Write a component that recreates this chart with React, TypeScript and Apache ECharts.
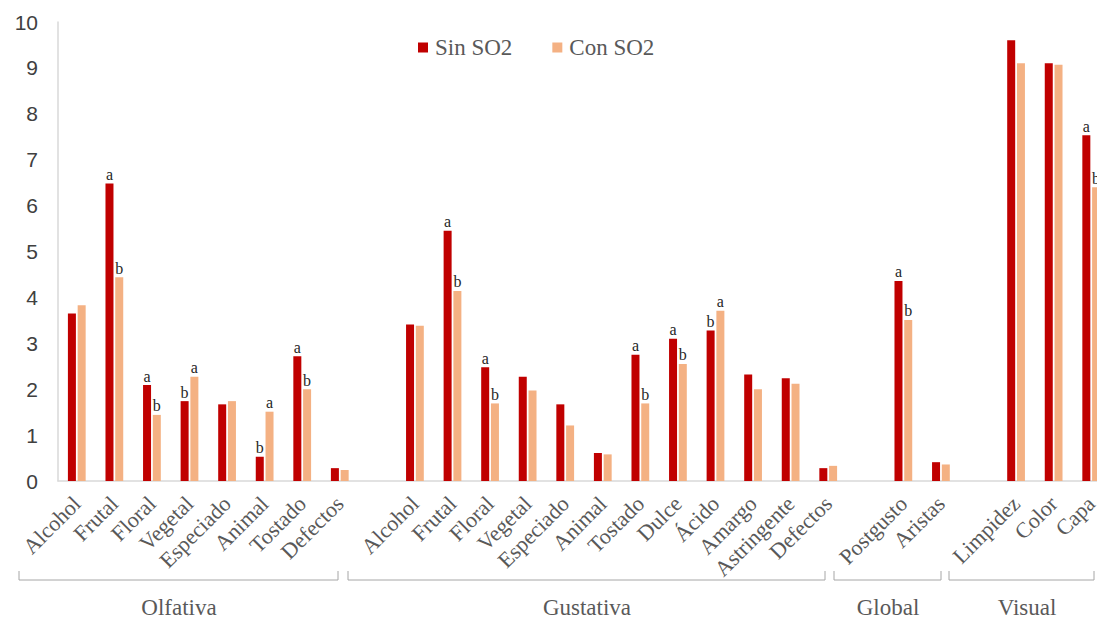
import React, { useEffect, useRef } from "react";
import * as echarts from "echarts";

// ---- data ----
const olfativaCats = ["Alcohol", "Frutal", "Floral", "Vegetal", "Especiado", "Animal", "Tostado", "Defectos"];
const gustativaCats = ["Alcohol", "Frutal", "Floral", "Vegetal", "Especiado", "Animal", "Tostado", "Dulce", "Ácido", "Amargo", "Astringente", "Defectos"];
const globalCats = ["Postgusto", "Aristas"];
const visualCats = ["Limpidez", "Color", "Capa"];

const olfativaSin = [3.65, 6.48, 2.09, 1.74, 1.67, 0.53, 2.72, 0.28];
const olfativaCon = [3.83, 4.44, 1.44, 2.27, 1.74, 1.51, 2.0, 0.24];
const gustativaSin = [3.41, 5.45, 2.48, 2.27, 1.67, 0.61, 2.75, 3.1, 3.28, 2.32, 2.24, 0.28];
const gustativaCon = [3.38, 4.14, 1.69, 1.97, 1.21, 0.58, 1.69, 2.55, 3.71, 2.0, 2.12, 0.33];
const globalSin = [4.36, 0.41];
const globalCon = [3.51, 0.36];
const visualSin = [9.6, 9.1, 7.53];
const visualCon = [9.1, 9.07, 6.4];

const olfativaSinL = ["", "a", "a", "b", "", "b", "a", ""];
const olfativaConL = ["", "b", "b", "a", "", "a", "b", ""];
const gustativaSinL = ["", "a", "a", "", "", "", "a", "a", "b", "", "", ""];
const gustativaConL = ["", "b", "b", "", "", "", "b", "b", "a", "", "", ""];
const globalSinL = ["a", ""];
const globalConL = ["b", ""];
const visualSinL = ["", "", "a"];
const visualConL = ["", "", "b"];

const groupNames = ["Olfativa", "Gustativa", "Global", "Visual"];
const yTicks = [0, 1, 2, 3, 4, 5, 6, 7, 8, 9, 10];

// build with a blank slot between groups
const join = <T,>(parts: T[][], gap: T): T[] => {
  const out: T[] = [];
  parts.forEach((p, i) => {
    if (i > 0) out.push(gap);
    out.push(...p);
  });
  return out;
};

const categories = join([olfativaCats, gustativaCats, globalCats, visualCats], "");
const sinValues = join<number | null>([olfativaSin, gustativaSin, globalSin, visualSin], null);
const conValues = join<number | null>([olfativaCon, gustativaCon, globalCon, visualCon], null);
const sinLetters = join([olfativaSinL, gustativaSinL, globalSinL, visualSinL], "");
const conLetters = join([olfativaConL, gustativaConL, globalConL, visualConL], "");

// decoration geometry (brackets under the category labels)
const brackets = [
  [19, 338],
  [348, 825],
  [834, 941],
  [949, 1094],
];
const groupLabelX = [179, 587, 888, 1027];

const SERIF = "'Liberation Serif', 'Times New Roman', serif";
const SANS = "'Liberation Sans', Arial, sans-serif";

export default function App() {
  const ref = useRef<HTMLDivElement>(null);

  useEffect(() => {
    if (!ref.current) return;
    const chart = echarts.init(ref.current, undefined, { renderer: "svg" });

    const graphic: any[] = [];
    brackets.forEach(([x1, x2]) => {
      graphic.push({
        type: "polyline",
        shape: { points: [[x1, 571], [x1, 580], [x2, 580], [x2, 571]] },
        style: { stroke: "#a6a6a6", lineWidth: 1, fill: "none" },
        silent: true,
      });
    });
    groupNames.forEach((n, i) => {
      graphic.push({
        type: "text",
        x: groupLabelX[i],
        y: 607,
        style: {
          text: n,
          font: `23px ${SERIF}`,
          fill: "#595959",
          textAlign: "center",
          textVerticalAlign: "middle",
        },
        silent: true,
      });
    });

    const labelStyle = {
      show: true,
      position: "top" as const,
      distance: 1,
      fontFamily: SERIF,
      fontSize: 16,
      color: "#262626",
    };

    chart.setOption({
      animation: false,
      backgroundColor: "#ffffff",
      grid: { left: 58, right: 10, top: 22, bottom: 138, containLabel: false },
      legend: {
        left: 413,
        top: 31,
        itemWidth: 10,
        itemHeight: 10,
        itemGap: 40,
        icon: "rect",
        textStyle: { fontFamily: SERIF, fontSize: 23, color: "#595959", padding: [0, 0, 0, 2] },
        data: ["Sin SO2", "Con SO2"],
      },
      xAxis: {
        type: "category",
        data: categories,
        axisLine: { show: true, lineStyle: { color: "#d9d9d9", width: 1.5 } },
        axisTick: { show: false },
        axisLabel: {
          interval: 0,
          rotate: 45,
          margin: 19,
          fontFamily: SERIF,
          fontSize: 22,
          color: "#595959",
        },
      },
      yAxis: {
        type: "value",
        min: yTicks[0],
        max: yTicks[yTicks.length - 1],
        interval: 1,
        axisLine: { show: true, lineStyle: { color: "#d9d9d9", width: 1.5 } },
        axisTick: { show: false },
        splitLine: { show: false },
        axisLabel: { fontFamily: SANS, fontSize: 21, color: "#404040", margin: 20 },
      },
      series: [
        {
          name: "Sin SO2",
          type: "bar",
          data: sinValues,
          barWidth: 8,
          barGap: "22%",
          itemStyle: { color: "#C00000" },
          label: { ...labelStyle, formatter: (p: any) => sinLetters[p.dataIndex] || "" },
        },
        {
          name: "Con SO2",
          type: "bar",
          data: conValues,
          barWidth: 8,
          itemStyle: { color: "#F4B183" },
          label: { ...labelStyle, formatter: (p: any) => conLetters[p.dataIndex] || "" },
        },
      ],
      graphic,
    });

    return () => chart.dispose();
  }, []);

  return (
    <div
      style={{
        position: "fixed",
        left: 0,
        top: 0,
        width: 1097,
        height: 619,
        overflow: "hidden",
        background: "#fff",
      }}
    >
      <div ref={ref} style={{ width: 1120, height: 619 }} />
    </div>
  );
}
